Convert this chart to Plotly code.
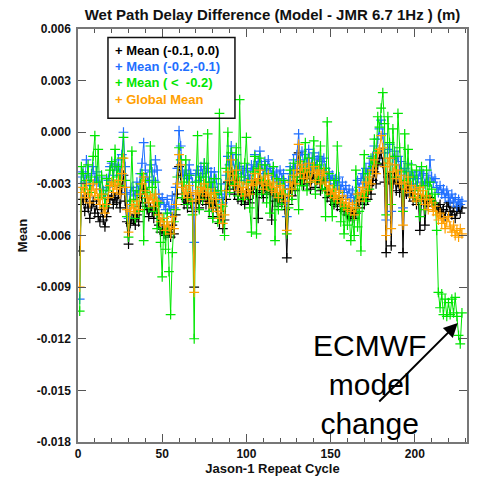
import plotly.graph_objects as go

cycles = list(range(1, 229))

# Mean (-0.1, 0.0)  (black)
mean_m01_00 = [
    -0.0069, -0.0042, -0.0039, -0.0046, -0.0038, -0.0044, -0.0050, -0.0043, -0.0040, -0.0047,
    -0.0042, -0.0049, -0.0052, -0.0045, -0.0051, -0.0055, -0.0049, -0.0044, -0.0039, -0.0037,
    -0.0042, -0.0038, -0.0041, -0.0036, -0.0044, -0.0032, -0.0025, -0.0040, -0.0052, -0.0065,
    -0.0053, -0.0050, -0.0051, -0.0054, -0.0048, -0.0052, -0.0043, -0.0038, -0.0033, -0.0041,
    -0.0045, -0.0049, -0.0044, -0.0046, -0.0050, -0.0043, -0.0047, -0.0054, -0.0058, -0.0056,
    -0.0059, -0.0060, -0.0056, -0.0058, -0.0061, -0.0054, -0.0059, -0.0048, -0.0036, -0.0020,
    -0.0025, -0.0038, -0.0042, -0.0039, -0.0044, -0.0037, -0.0041, -0.0046, -0.0090, -0.0041,
    -0.0039, -0.0044, -0.0037, -0.0040, -0.0036, -0.0042, -0.0038, -0.0046, -0.0041, -0.0049,
    -0.0040, -0.0044, -0.0050, -0.0053, -0.0046, -0.0056, -0.0051, -0.0039, -0.0029, -0.0033,
    -0.0023, -0.0030, -0.0036, -0.0028, -0.0039, -0.0034, -0.0040, -0.0037, -0.0042, -0.0035,
    -0.0039, -0.0041, -0.0033, -0.0036, -0.0029, -0.0035, -0.0050, -0.0027, -0.0034, -0.0038,
    -0.0031, -0.0036, -0.0030, -0.0035, -0.0051, -0.0034, -0.0040, -0.0037, -0.0043, -0.0036,
    -0.0041, -0.0038, -0.0045, -0.0073, -0.0042, -0.0033, -0.0037, -0.0029, -0.0034, -0.0026,
    -0.0012, -0.0028, -0.0023, -0.0031, -0.0025, -0.0030, -0.0022, -0.0033, -0.0027, -0.0024,
    -0.0032, -0.0028, -0.0026, -0.0034, -0.0029, -0.0027, -0.0033, -0.0038, -0.0035, -0.0040,
    -0.0037, -0.0042, -0.0039, -0.0043, -0.0038, -0.0045, -0.0041, -0.0046, -0.0043, -0.0048,
    -0.0044, -0.0049, -0.0045, -0.0050, -0.0047, -0.0040, -0.0044, -0.0039, -0.0036, -0.0042,
    -0.0034, -0.0039, -0.0031, -0.0036, -0.0028, -0.0023, -0.0030, -0.0019, -0.0015, -0.0012,
    -0.0018, -0.0029, -0.0070, -0.0026, -0.0024, -0.0066, -0.0030, -0.0026, -0.0034, -0.0029,
    -0.0035, -0.0031, -0.0070, -0.0033, -0.0036, -0.0030, -0.0037, -0.0034, -0.0040, -0.0036,
    -0.0042, -0.0038, -0.0057, -0.0040, -0.0037, -0.0054, -0.0039, -0.0043, -0.0038, -0.0040,
    -0.0043, -0.0041, -0.0046, -0.0044, -0.0042, -0.0047, -0.0045, -0.0049, -0.0043, -0.0041,
    -0.0046, -0.0048, -0.0044, -0.0050, -0.0046, -0.0043, -0.0047, -0.0044,
]

# Mean (-0.2,-0.1)  (blue)
mean_m02_m01 = [
    -0.0097, -0.0026, -0.0023, -0.0029, -0.0016, -0.0025, -0.0031, -0.0024, -0.0020, -0.0028,
    -0.0023, -0.0029, -0.0033, -0.0026, -0.0034, -0.0038, -0.0032, -0.0028, -0.0020, -0.0018,
    -0.0025, -0.0019, -0.0022, -0.0016, -0.0025, -0.0013, 0.0000, -0.0020, -0.0035, -0.0050,
    -0.0036, -0.0032, -0.0034, -0.0037, -0.0029, -0.0034, -0.0024, -0.0018, -0.0006, -0.0022,
    -0.0026, -0.0029, -0.0019, -0.0023, -0.0028, -0.0016, -0.0022, -0.0036, -0.0041, -0.0038,
    -0.0042, -0.0045, -0.0039, -0.0043, -0.0047, -0.0037, -0.0044, -0.0032, -0.0021, 0.0001,
    -0.0008, -0.0023, -0.0026, -0.0022, -0.0027, -0.0019, -0.0024, -0.0029, -0.0064, -0.0025,
    -0.0022, -0.0028, -0.0020, -0.0024, -0.0018, -0.0026, -0.0021, -0.0029, -0.0023, -0.0032,
    -0.0023, -0.0027, -0.0034, -0.0038, -0.0030, -0.0041, -0.0036, -0.0025, -0.0014, -0.0019,
    -0.0008, -0.0016, -0.0022, -0.0013, -0.0024, -0.0020, -0.0026, -0.0022, -0.0028, -0.0021,
    -0.0025, -0.0027, -0.0019, -0.0022, -0.0013, -0.0020, -0.0017, -0.0011, -0.0019, -0.0024,
    -0.0017, -0.0022, -0.0016, -0.0021, -0.0025, -0.0020, -0.0026, -0.0023, -0.0029, -0.0022,
    -0.0027, -0.0024, -0.0031, -0.0049, -0.0028, -0.0020, -0.0024, -0.0016, -0.0021, -0.0013,
    -0.0001, -0.0016, -0.0011, -0.0019, -0.0013, -0.0018, -0.0010, -0.0021, -0.0015, -0.0012,
    -0.0020, -0.0016, -0.0014, -0.0022, -0.0017, -0.0015, -0.0021, -0.0026, -0.0023, -0.0028,
    -0.0025, -0.0030, -0.0027, -0.0031, -0.0026, -0.0033, -0.0029, -0.0035, -0.0031, -0.0037,
    -0.0033, -0.0038, -0.0034, -0.0040, -0.0036, -0.0028, -0.0032, -0.0027, -0.0024, -0.0030,
    -0.0021, -0.0026, -0.0018, -0.0022, -0.0014, -0.0008, -0.0016, -0.0004, 0.0002, 0.0007,
    -0.0001, -0.0012, -0.0051, -0.0010, -0.0007, -0.0046, -0.0015, -0.0011, -0.0019, -0.0014,
    -0.0022, -0.0017, -0.0044, -0.0021, -0.0025, -0.0018, -0.0027, -0.0023, -0.0030, -0.0025,
    -0.0031, -0.0027, -0.0023, -0.0029, -0.0024, -0.0030, -0.0025, -0.0029, -0.0016, -0.0026,
    -0.0029, -0.0027, -0.0032, -0.0035, -0.0031, -0.0036, -0.0033, -0.0038, -0.0034, -0.0037,
    -0.0040, -0.0036, -0.0041, -0.0038, -0.0043, -0.0039, -0.0042, -0.0040,
]

# Mean ( <  -0.2)  (green)
mean_lt_m02 = [
    -0.0104, -0.0020, -0.0024, -0.0033, -0.0028, -0.0019, -0.0035, -0.0026, -0.0014, -0.0002,
    -0.0029, -0.0010, -0.0038, -0.0025, -0.0036, -0.0043, -0.0027, -0.0034, -0.0022, -0.0017,
    -0.0029, -0.0010, -0.0026, -0.0020, -0.0031, -0.0015, -0.0003, -0.0028, -0.0049, -0.0061,
    -0.0040, -0.0011, -0.0039, -0.0050, -0.0034, -0.0046, -0.0030, -0.0024, -0.0063, -0.0028,
    -0.0035, -0.0044, -0.0008, -0.0032, -0.0046, -0.0029, -0.0056, -0.0041, -0.0064, -0.0084,
    -0.0050, -0.0068, -0.0047, -0.0081, -0.0106, -0.0070, -0.0052, -0.0045, -0.0026, -0.0009,
    -0.0016, -0.0038, -0.0029, -0.0016, -0.0042, -0.0025, -0.0039, -0.0048, -0.0120, -0.0029,
    -0.0002, -0.0045, -0.0026, -0.0039, -0.0018, -0.0032, -0.0001, -0.0046, -0.0029, -0.0050,
    -0.0027, -0.0036, -0.0052, 0.0011, -0.0034, -0.0043, -0.0060, -0.0021, 0.0000, -0.0035,
    -0.0012, -0.0030, -0.0025, -0.0009, -0.0037, 0.0019, -0.0026, -0.0039, -0.0018, -0.0003,
    -0.0029, -0.0044, -0.0058, -0.0023, -0.0014, -0.0059, -0.0021, -0.0015, -0.0036, -0.0028,
    -0.0019, -0.0041, -0.0024, -0.0047, -0.0033, -0.0020, -0.0063, -0.0027, -0.0045, -0.0030,
    -0.0042, -0.0028, -0.0036, -0.0059, -0.0044, -0.0022, -0.0039, -0.0018, -0.0033, -0.0026,
    -0.0045, -0.0017, -0.0031, -0.0023, -0.0006, -0.0034, -0.0015, -0.0029, -0.0020, -0.0005,
    -0.0036, -0.0019, -0.0027, -0.0008, -0.0033, -0.0021, -0.0049, 0.0006, -0.0024, -0.0037,
    -0.0049, -0.0028, -0.0041, -0.0008, -0.0035, -0.0052, -0.0039, -0.0059, -0.0044, -0.0054,
    -0.0048, -0.0063, -0.0051, -0.0060, -0.0022, -0.0055, -0.0046, -0.0069, -0.0037, -0.0013,
    -0.0040, -0.0024, -0.0033, -0.0015, -0.0020, -0.0004, -0.0018, 0.0009, 0.0003, 0.0014,
    0.0023, 0.0005, -0.0048, 0.0009, -0.0006, -0.0042, 0.0002, -0.0014, -0.0026, 0.0011,
    -0.0009, -0.0023, -0.0046, -0.0001, -0.0028, -0.0010, -0.0035, -0.0019, -0.0026, -0.0038,
    -0.0022, -0.0034, -0.0049, -0.0020, -0.0031, -0.0045, -0.0022, -0.0037, -0.0029, -0.0033,
    -0.0041, -0.0036, -0.0057, -0.0093, -0.0102, -0.0094, -0.0106, -0.0097, -0.0107, -0.0099,
    -0.0106, -0.0097, -0.0105, -0.0096, -0.0107, -0.0118, -0.0123, -0.0105,
]

# Global Mean  (orange)
global_mean = [
    -0.0090, -0.0035, -0.0032, -0.0038, -0.0030, -0.0036, -0.0041, -0.0034, -0.0030, -0.0037,
    -0.0033, -0.0039, -0.0042, -0.0036, -0.0044, -0.0047, -0.0042, -0.0038, -0.0031, -0.0029,
    -0.0035, -0.0030, -0.0033, -0.0028, -0.0036, -0.0024, -0.0015, -0.0032, -0.0045, -0.0058,
    -0.0046, -0.0042, -0.0044, -0.0047, -0.0040, -0.0045, -0.0036, -0.0030, -0.0026, -0.0034,
    -0.0038, -0.0041, -0.0037, -0.0039, -0.0043, -0.0036, -0.0040, -0.0048, -0.0052, -0.0050,
    -0.0054, -0.0057, -0.0052, -0.0055, -0.0059, -0.0049, -0.0056, -0.0042, -0.0030, -0.0013,
    -0.0019, -0.0032, -0.0036, -0.0033, -0.0038, -0.0031, -0.0035, -0.0040, -0.0093, -0.0036,
    -0.0034, -0.0039, -0.0032, -0.0035, -0.0030, -0.0037, -0.0033, -0.0041, -0.0036, -0.0044,
    -0.0035, -0.0039, -0.0046, -0.0050, -0.0042, -0.0053, -0.0048, -0.0034, -0.0023, -0.0028,
    -0.0016, -0.0025, -0.0031, -0.0022, -0.0034, -0.0029, -0.0035, -0.0032, -0.0037, -0.0030,
    -0.0034, -0.0036, -0.0028, -0.0031, -0.0024, -0.0030, -0.0027, -0.0022, -0.0029, -0.0033,
    -0.0026, -0.0031, -0.0025, -0.0030, -0.0034, -0.0029, -0.0035, -0.0032, -0.0038, -0.0031,
    -0.0036, -0.0033, -0.0040, -0.0057, -0.0037, -0.0029, -0.0033, -0.0025, -0.0030, -0.0022,
    -0.0007, -0.0024, -0.0019, -0.0027, -0.0021, -0.0026, -0.0018, -0.0029, -0.0023, -0.0020,
    -0.0028, -0.0024, -0.0022, -0.0030, -0.0025, -0.0023, -0.0029, -0.0034, -0.0031, -0.0036,
    -0.0033, -0.0038, -0.0035, -0.0039, -0.0034, -0.0041, -0.0037, -0.0043, -0.0039, -0.0045,
    -0.0041, -0.0046, -0.0042, -0.0048, -0.0044, -0.0036, -0.0040, -0.0035, -0.0032, -0.0038,
    -0.0029, -0.0034, -0.0026, -0.0030, -0.0022, -0.0016, -0.0024, -0.0012, -0.0010, -0.0002,
    -0.0009, -0.0020, -0.0060, -0.0018, -0.0015, -0.0056, -0.0023, -0.0019, -0.0027, -0.0022,
    -0.0030, -0.0025, -0.0054, -0.0029, -0.0033, -0.0026, -0.0035, -0.0031, -0.0038, -0.0033,
    -0.0040, -0.0036, -0.0032, -0.0039, -0.0034, -0.0042, -0.0037, -0.0045, -0.0039, -0.0041,
    -0.0046, -0.0043, -0.0048, -0.0051, -0.0047, -0.0053, -0.0050, -0.0056, -0.0052, -0.0049,
    -0.0055, -0.0058, -0.0054, -0.0060, -0.0057, -0.0061, -0.0056, -0.0059,
]

series_names = ["Mean (-0.1, 0.0)", "Mean (-0.2,-0.1)", "Mean ( &lt;&nbsp; -0.2)", "Global Mean"]
series_values = [mean_m01_00, mean_m02_m01, mean_lt_m02, global_mean]
series_colors = ["#000000", "#1f6fff", "#00e600", "#ffa000"]

x_tickvals = [0, 50, 100, 150, 200]
x_ticktext = ["0", "50", "100", "150", "200"]
y_tickvals = [0.006, 0.003, 0.0, -0.003, -0.006, -0.009, -0.012, -0.015, -0.018]
y_ticktext = ["0.006", "0.003", "0.000", "-0.003", "-0.006", "-0.009", "-0.012", "-0.015", "-0.018"]

BOLD = dict(family="Liberation Sans, Arial, sans-serif", color="#111111", weight="bold")

fig = go.Figure()
for name, vals, color in zip(series_names, series_values, series_colors):
    fig.add_trace(go.Scatter(
        x=cycles, y=vals, mode="lines+markers", name=name,
        line=dict(color=color, width=1),
        marker=dict(symbol="cross-thin", size=7, line=dict(color=color, width=1.2)),
    ))

axis_common = dict(
    showgrid=False, zeroline=False, showline=True, linecolor="#777777", linewidth=1.5,
    mirror="ticks", ticks="inside", tickcolor="#555555", tickwidth=1,
    tickfont=dict(size=12, **BOLD), automargin=False,
)

fig.update_xaxes(
    range=[0, 231], tickvals=x_tickvals, ticktext=x_ticktext, ticklen=8,
    minor=dict(ticks="inside", dtick=10, tick0=0, ticklen=4, tickcolor="#555555", showgrid=False),
    title=dict(text="Jason-1 Repeat Cycle", font=dict(size=13, **BOLD), standoff=2),
    **axis_common,
)
fig.update_yaxes(
    range=[-0.018, 0.006], tickvals=y_tickvals, ticktext=y_ticktext, ticklen=8,
    ticklabelstandoff=3,
    title=dict(text="Mean", font=dict(size=13, **BOLD), standoff=6),
    **axis_common,
)

# legend box and entries (drawn as text, '+' symbol)
fig.add_shape(type="rect", xref="x", yref="y", x0=17.8, x1=93.2, y0=0.00081, y1=0.00551,
              line=dict(color="#111111", width=1.5), fillcolor="rgba(0,0,0,0)", layer="above")
legend_y = [0.00476, 0.00383, 0.00290, 0.00192]
for name, color, yy in zip(series_names, series_colors, legend_y):
    fig.add_annotation(x=20.8, y=yy, xref="x", yref="y", xanchor="left", yanchor="middle",
                       text="+ " + name, showarrow=False,
                       font=dict(family="Liberation Sans, Arial, sans-serif", size=13,
                                 color=color, weight="bold"))

fig.add_annotation(x=173.3, y=-0.01468, xref="x", yref="y", text="ECMWF<br>model<br>change",
                   showarrow=False, xanchor="center", yanchor="middle",
                   font=dict(family="Liberation Sans, Arial, sans-serif", size=30, color="#000000"))
fig.add_annotation(x=225.5, y=-0.01109, xref="x", yref="y", ax=178, ay=-0.01573,
                   axref="x", ayref="y", text="", showarrow=True, arrowhead=2,
                   arrowsize=1.4, arrowwidth=2, arrowcolor="#000000", standoff=0)

fig.update_layout(
    width=483, height=478,
    margin=dict(l=78, r=16, t=29, b=36),
    paper_bgcolor="white", plot_bgcolor="white",
    showlegend=False,
    title=dict(text="Wet Path Delay Difference (Model - JMR 6.7 1Hz ) (m)",
               x=0.5, xref="paper", xanchor="center", y=0.969, yref="container", yanchor="middle",
               font=dict(size=15, **BOLD)),
)

fig.write_html(
    "out.html",
    config={"displayModeBar": False},
    post_script="document.body.style.margin='0';document.body.style.overflow='hidden';",
)
